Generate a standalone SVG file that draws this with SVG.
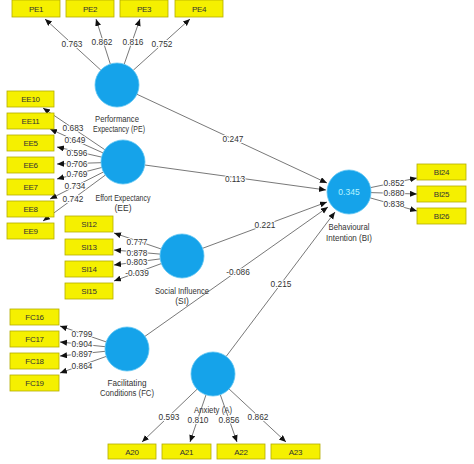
<svg xmlns="http://www.w3.org/2000/svg" width="474" height="464" viewBox="0 0 474 464">
<style>
.bg{fill:#ffffff}
.box{fill:#f5f000;stroke:#b3ad00;stroke-width:0.8}
.bt{font-family:"Liberation Sans",Arial,sans-serif;font-size:8px;letter-spacing:-0.3px;fill:#333;text-anchor:middle}
.lv{fill:#15a3ea;stroke:#5cc4f2;stroke-width:0.8}
.lt{font-family:"Liberation Sans",Arial,sans-serif;font-size:8.5px;fill:#333;text-anchor:middle}
.ln{stroke:#555;stroke-width:0.8;fill:none;marker-end:url(#ah)}
.cf{font-family:"Liberation Sans",Arial,sans-serif;font-size:8.3px;fill:#333;text-anchor:middle;stroke:#fff;stroke-width:2;paint-order:stroke;stroke-linejoin:round}
</style>
<defs>
<marker id="ah" markerWidth="8" markerHeight="8" refX="7" refY="3" orient="auto" markerUnits="userSpaceOnUse">
<path d="M0,0 L7,3 L0,6 Z" fill="#111"/>
</marker>
</defs>
<rect class="bg" width="474" height="464"/>

<g id="connectors">
<line class="ln" x1="100.8" y1="70.1" x2="45" y2="19"/>
<line class="ln" x1="110.3" y1="64" x2="96" y2="19"/>
<line class="ln" x1="124.2" y1="64.2" x2="140" y2="19"/>
<line class="ln" x1="133.3" y1="70.2" x2="190" y2="19"/>
<line class="ln" x1="104.8" y1="149.7" x2="43" y2="108"/>
<line class="ln" x1="103" y1="152.9" x2="50" y2="129"/>
<line class="ln" x1="101.6" y1="157.1" x2="57" y2="147"/>
<line class="ln" x1="101" y1="162.7" x2="57" y2="164"/>
<line class="ln" x1="101.7" y1="167.5" x2="57" y2="179"/>
<line class="ln" x1="103.4" y1="172" x2="50" y2="199"/>
<line class="ln" x1="105.3" y1="175.1" x2="43" y2="221"/>
<line class="ln" x1="161.2" y1="249" x2="114" y2="233"/>
<line class="ln" x1="160.1" y1="254.1" x2="114" y2="250"/>
<line class="ln" x1="160.2" y1="258.9" x2="114" y2="265"/>
<line class="ln" x1="161.3" y1="263.6" x2="114" y2="281"/>
<line class="ln" x1="106.2" y1="341.9" x2="60" y2="326"/>
<line class="ln" x1="105.1" y1="346.7" x2="60" y2="342"/>
<line class="ln" x1="105.1" y1="351.3" x2="60" y2="356"/>
<line class="ln" x1="106.3" y1="356.4" x2="60" y2="373"/>
<line class="ln" x1="197.1" y1="389.2" x2="142" y2="442"/>
<line class="ln" x1="206" y1="394.8" x2="190" y2="442"/>
<line class="ln" x1="220.3" y1="394.7" x2="237" y2="442"/>
<line class="ln" x1="229.1" y1="389" x2="286" y2="442"/>
<line class="ln" x1="370.6" y1="187.6" x2="417" y2="178"/>
<line class="ln" x1="371" y1="192.6" x2="417" y2="194"/>
<line class="ln" x1="370.2" y1="197.9" x2="417" y2="211"/>
<line class="ln" x1="137" y1="94.3" x2="327" y2="183"/>
<line class="ln" x1="144.8" y1="165" x2="326" y2="190"/>
<line class="ln" x1="202.6" y1="248.3" x2="327" y2="202"/>
<line class="ln" x1="145" y1="336.3" x2="328" y2="207"/>
<line class="ln" x1="226.2" y1="356.4" x2="335" y2="212"/>
<text class="cf" x="72" y="47">0.763</text>
<text class="cf" x="102" y="45">0.862</text>
<text class="cf" x="133" y="45">0.816</text>
<text class="cf" x="162" y="47">0.752</text>
<text class="cf" x="73" y="131">0.683</text>
<text class="cf" x="75" y="143">0.649</text>
<text class="cf" x="77" y="156">0.596</text>
<text class="cf" x="77" y="167">0.706</text>
<text class="cf" x="77" y="177">0.769</text>
<text class="cf" x="75" y="189">0.734</text>
<text class="cf" x="73" y="202">0.742</text>
<text class="cf" x="137" y="245">0.777</text>
<text class="cf" x="137" y="256">0.878</text>
<text class="cf" x="137" y="265">0.803</text>
<text class="cf" x="137" y="276">-0.039</text>
<text class="cf" x="82" y="337">0.799</text>
<text class="cf" x="82" y="347">0.904</text>
<text class="cf" x="82" y="357">0.897</text>
<text class="cf" x="82" y="369">0.864</text>
<text class="cf" x="169" y="420">0.593</text>
<text class="cf" x="198" y="423">0.810</text>
<text class="cf" x="229" y="423">0.856</text>
<text class="cf" x="258" y="420">0.862</text>
<text class="cf" x="394" y="186">0.852</text>
<text class="cf" x="394" y="196">0.880</text>
<text class="cf" x="394" y="207">0.838</text>
<text class="cf" x="233" y="142">0.247</text>
<text class="cf" x="235" y="182">0.113</text>
<text class="cf" x="265" y="228">0.221</text>
<text class="cf" x="238" y="275">-0.086</text>
<text class="cf" x="281" y="287">0.215</text>
</g>

<g id="PE1"><rect class="box" x="12" y="0" width="48" height="17"/><text class="bt" x="36" y="12">PE1</text></g>
<g id="PE2"><rect class="box" x="66" y="0" width="48" height="17"/><text class="bt" x="90" y="12">PE2</text></g>
<g id="PE3"><rect class="box" x="120" y="0" width="48" height="17"/><text class="bt" x="144" y="12">PE3</text></g>
<g id="PE4"><rect class="box" x="175" y="0" width="48" height="17"/><text class="bt" x="199" y="12">PE4</text></g>

<g id="EE10"><rect class="box" x="7" y="91" width="47" height="16"/><text class="bt" x="30.5" y="102">EE10</text></g>
<g id="EE11"><rect class="box" x="7" y="113" width="47" height="16"/><text class="bt" x="30.5" y="124">EE11</text></g>
<g id="EE5"><rect class="box" x="7" y="135" width="47" height="16"/><text class="bt" x="30.5" y="146">EE5</text></g>
<g id="EE6"><rect class="box" x="7" y="157" width="47" height="16"/><text class="bt" x="30.5" y="168">EE6</text></g>
<g id="EE7"><rect class="box" x="7" y="179" width="47" height="16"/><text class="bt" x="30.5" y="190">EE7</text></g>
<g id="EE8"><rect class="box" x="7" y="201" width="47" height="16"/><text class="bt" x="30.5" y="212">EE8</text></g>
<g id="EE9"><rect class="box" x="7" y="223" width="47" height="16"/><text class="bt" x="30.5" y="234">EE9</text></g>

<g id="SI12"><rect class="box" x="65" y="216" width="48" height="16"/><text class="bt" x="89" y="227">SI12</text></g>
<g id="SI13"><rect class="box" x="65" y="239" width="48" height="16"/><text class="bt" x="89" y="250">SI13</text></g>
<g id="SI14"><rect class="box" x="65" y="261" width="48" height="16"/><text class="bt" x="89" y="272">SI14</text></g>
<g id="SI15"><rect class="box" x="65" y="283" width="48" height="16"/><text class="bt" x="89" y="294">SI15</text></g>

<g id="FC16"><rect class="box" x="10" y="309" width="49" height="16"/><text class="bt" x="34.5" y="320">FC16</text></g>
<g id="FC17"><rect class="box" x="10" y="331" width="49" height="16"/><text class="bt" x="34.5" y="342">FC17</text></g>
<g id="FC18"><rect class="box" x="10" y="353" width="49" height="16"/><text class="bt" x="34.5" y="364">FC18</text></g>
<g id="FC19"><rect class="box" x="10" y="375" width="49" height="16"/><text class="bt" x="34.5" y="386">FC19</text></g>

<g id="A20"><rect class="box" x="108" y="444" width="48" height="15"/><text class="bt" x="132" y="455">A20</text></g>
<g id="A21"><rect class="box" x="162" y="444" width="49" height="15"/><text class="bt" x="186.5" y="455">A21</text></g>
<g id="A22"><rect class="box" x="217" y="444" width="48" height="15"/><text class="bt" x="241" y="455">A22</text></g>
<g id="A23"><rect class="box" x="271" y="444" width="49" height="15"/><text class="bt" x="295.5" y="455">A23</text></g>

<g id="BI24"><rect class="box" x="417" y="164" width="49" height="16"/><text class="bt" x="441.5" y="175">BI24</text></g>
<g id="BI25"><rect class="box" x="417" y="186" width="49" height="16"/><text class="bt" x="441.5" y="197">BI25</text></g>
<g id="BI26"><rect class="box" x="417" y="208" width="49" height="16"/><text class="bt" x="441.5" y="219">BI26</text></g>

<g id="PE"><circle class="lv" cx="117" cy="85" r="22"/><text class="lt" x="117" y="122" textLength="44" lengthAdjust="spacingAndGlyphs">Performance</text><text class="lt" x="119" y="132" textLength="52" lengthAdjust="spacingAndGlyphs">Expectancy (PE)</text></g>
<g id="EE"><circle class="lv" cx="123" cy="162" r="22"/><text class="lt" x="123" y="201" textLength="55" lengthAdjust="spacingAndGlyphs">Effort Expectancy</text><text class="lt" x="123" y="211">(EE)</text></g>
<g id="SI"><circle class="lv" cx="182" cy="256" r="22"/><text class="lt" x="182" y="294" textLength="54" lengthAdjust="spacingAndGlyphs">Social Influence</text><text class="lt" x="182" y="304">(SI)</text></g>
<g id="FC"><circle class="lv" cx="127" cy="349" r="22"/><text class="lt" x="127" y="386" textLength="39" lengthAdjust="spacingAndGlyphs">Facilitating</text><text class="lt" x="127" y="396" textLength="54" lengthAdjust="spacingAndGlyphs">Conditions (FC)</text></g>
<g id="A"><circle class="lv" cx="213" cy="374" r="22"/><text class="lt" x="213" y="413" textLength="38" lengthAdjust="spacingAndGlyphs">Anxiety (A)</text></g>
<g id="BI"><circle class="lv" cx="349" cy="192" r="22"/><text class="lt" x="349" y="195" style="fill:#b8f4ff">0.345</text><text class="lt" x="349" y="230" textLength="41" lengthAdjust="spacingAndGlyphs">Behavioural</text><text class="lt" x="349" y="241" textLength="46" lengthAdjust="spacingAndGlyphs">Intention (BI)</text></g>
</svg>
